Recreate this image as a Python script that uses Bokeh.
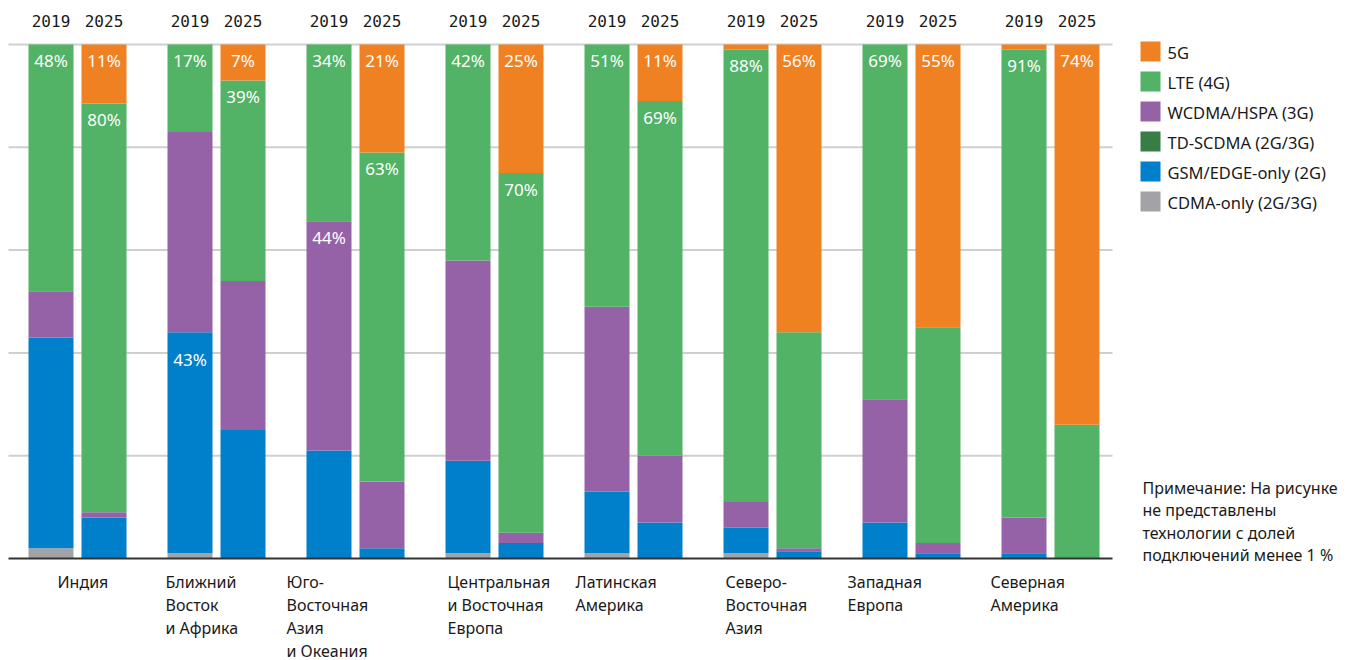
from bokeh.plotting import figure
from bokeh.models import Range1d, ColumnDataSource
from bokeh.core.properties import value
from bokeh.embed import file_html
from bokeh.resources import INLINE

# ---------------- data ----------------
regions = [
    ["Индия"],
    ["Ближний", "Восток", "и Африка"],
    ["Юго-", "Восточная", "Азия", "и Океания"],
    ["Центральная", "и Восточная", "Европа"],
    ["Латинская", "Америка"],
    ["Северо-", "Восточная", "Азия"],
    ["Западная", "Европа"],
    ["Северная", "Америка"],
]
years = ["2019", "2025"]
techs = ["CDMA-only (2G/3G)", "GSM/EDGE-only (2G)", "TD-SCDMA (2G/3G)",
         "WCDMA/HSPA (3G)", "LTE (4G)", "5G"]

cdma_2019 = [2, 1, 0, 1, 1, 1, 0, 0]
gsm_2019 = [41, 43, 21, 18, 12, 5, 7, 1]
tdscdma_2019 = [0, 0, 0, 0, 0, 0, 0, 0]
wcdma_2019 = [9, 39, 44.6, 39, 36, 5, 24, 7]
lte_2019 = [48, 17, 34.4, 42, 51, 88, 69, 91]
g5_2019 = [0, 0, 0, 0, 0, 1, 0, 1]

cdma_2025 = [0, 0, 0, 0, 0, 0, 0, 0]
gsm_2025 = [8, 25, 2, 3, 7, 1.4, 1, 0]
tdscdma_2025 = [0, 0, 0, 0, 0, 0, 0, 0]
wcdma_2025 = [1, 29, 13, 2, 13, 0.6, 2, 0]
lte_2025 = [79.5, 39, 64, 70, 69, 42, 42, 26]
g5_2025 = [11.5, 7, 21, 25, 11, 56, 55, 74]

# labelled segments: (region index, year, tech, text)
pct_labels = [
    (0, "2019", "LTE (4G)", "48%"), (0, "2025", "5G", "11%"), (0, "2025", "LTE (4G)", "80%"),
    (1, "2019", "LTE (4G)", "17%"), (1, "2019", "GSM/EDGE-only (2G)", "43%"),
    (1, "2025", "5G", "7%"), (1, "2025", "LTE (4G)", "39%"),
    (2, "2019", "LTE (4G)", "34%"), (2, "2019", "WCDMA/HSPA (3G)", "44%"),
    (2, "2025", "5G", "21%"), (2, "2025", "LTE (4G)", "63%"),
    (3, "2019", "LTE (4G)", "42%"), (3, "2025", "5G", "25%"), (3, "2025", "LTE (4G)", "70%"),
    (4, "2019", "LTE (4G)", "51%"), (4, "2025", "5G", "11%"), (4, "2025", "LTE (4G)", "69%"),
    (5, "2019", "LTE (4G)", "88%"), (5, "2025", "5G", "56%"),
    (6, "2019", "LTE (4G)", "69%"), (6, "2025", "5G", "55%"),
    (7, "2019", "LTE (4G)", "91%"), (7, "2025", "5G", "74%"),
]

note_lines = ["Примечание: На рисунке", "не представлены",
              "технологии с долей", "подключений менее 1 %"]

# ---------------- styling / layout ----------------
colors = {
    "CDMA-only (2G/3G)": "#A3A3A7",
    "GSM/EDGE-only (2G)": "#007FCB",
    "TD-SCDMA (2G/3G)": "#387D46",
    "WCDMA/HSPA (3G)": "#9562A7",
    "LTE (4G)": "#52B266",
    "5G": "#F08122",
}
W, H = 1354, 660
PITCH = 139.0     # px per region group
X0 = 77.0         # px of first group centre
PX_PER_PCT = 5.14
BASE = 558.0      # px of 0 %


def X(px):
    return (px - X0) / PITCH


def Y(py):
    return (BASE - py) / PX_PER_PCT


BAR_W = 45 / PITCH
OFF = 26.5 / PITCH
FONT = value("Noto Sans")

p = figure(width=W, height=H, output_backend="svg", toolbar_location=None,
           x_range=Range1d(X(0), X(W)), y_range=Range1d(Y(H), Y(0)),
           x_axis_type=None, y_axis_type=None, min_border=0)
p.outline_line_color = None
p.grid.visible = False
p.background_fill_color = "white"
p.border_fill_color = "white"

# gridlines
grid_vals = [20, 40, 60, 80, 100]
p.segment(x0=[X(8)] * len(grid_vals), x1=[X(1112)] * len(grid_vals),
          y0=grid_vals, y1=grid_vals, line_color="#CFCFCF", line_width=2)

series = {
    "2019": [cdma_2019, gsm_2019, tdscdma_2019, wcdma_2019, lte_2019, g5_2019],
    "2025": [cdma_2025, gsm_2025, tdscdma_2025, wcdma_2025, lte_2025, g5_2025],
}
xpos = {}
for yi, yr in enumerate(years):
    xs = [i + (-OFF if yi == 0 else OFF) for i in range(len(regions))]
    xpos[yr] = xs
    data = {"x": xs}
    for t, vals in zip(techs, series[yr]):
        data[t] = vals
    src = ColumnDataSource(data)
    p.vbar_stack(techs, x="x", width=BAR_W, source=src,
                 color=[colors[t] for t in techs], line_width=0)

# baseline
p.segment(x0=[X(8)], x1=[X(1112)], y0=[0], y1=[0], line_color="#333333", line_width=2)

# percentage labels
label_drop_px = {(1, "2019", "GSM/EDGE-only (2G)"): 27}
lx, ly, lt = [], [], []
for ri, yr, tech, txt in pct_labels:
    k = techs.index(tech)
    top = sum(series[yr][j][ri] for j in range(k + 1))
    drop = label_drop_px.get((ri, yr, tech), 16)
    lx.append(xpos[yr][ri])
    ly.append(top - drop / PX_PER_PCT)
    lt.append(txt)
p.text(x=lx, y=ly, text=lt, text_font=FONT, text_font_size="17px",
       text_color="white", text_align="center", text_baseline="middle")

# year labels
yx, yy, yt = [], [], []
for yr in years:
    for xv in xpos[yr]:
        yx.append(xv)
        yy.append(Y(20))
        yt.append(yr)
p.text(x=yx, y=yy, text=yt, text_font=value("DejaVu Sans Mono"), text_font_size="16px",
       text_color="#1a1a1a", text_align="center", text_baseline="middle")

# region labels
region_left_px = [57, 165, 286, 447, 575, 725, 847, 990]
cx, cy, ct = [], [], []
for lines, lp in zip(regions, region_left_px):
    for li, line in enumerate(lines):
        cx.append(X(lp))
        cy.append(Y(581 + 23 * li))
        ct.append(line)
p.text(x=cx, y=cy, text=ct, text_font=FONT, text_font_size="16px",
       text_color="#1a1a1a", text_align="left", text_baseline="middle")

# legend
legend_order = ["5G", "LTE (4G)", "WCDMA/HSPA (3G)", "TD-SCDMA (2G/3G)",
                "GSM/EDGE-only (2G)", "CDMA-only (2G/3G)"]
p.quad(left=[X(1140)] * 6, right=[X(1160)] * 6,
       top=[Y(41 + 30 * i) for i in range(6)], bottom=[Y(61 + 30 * i) for i in range(6)],
       color=[colors[t] for t in legend_order], line_width=0)
p.text(x=[X(1167)] * 6, y=[Y(52 + 30 * i) for i in range(6)], text=legend_order,
       text_font=FONT, text_font_size="16.5px", text_color="#1a1a1a",
       text_align="left", text_baseline="middle")

# note
p.text(x=[X(1142)] * len(note_lines), y=[Y(487 + 22.5 * i) for i in range(len(note_lines))],
       text=note_lines, text_font=FONT, text_font_size="16px", text_color="#1a1a1a",
       text_align="left", text_baseline="middle")

open("out.html", "w").write(file_html(p, INLINE))
